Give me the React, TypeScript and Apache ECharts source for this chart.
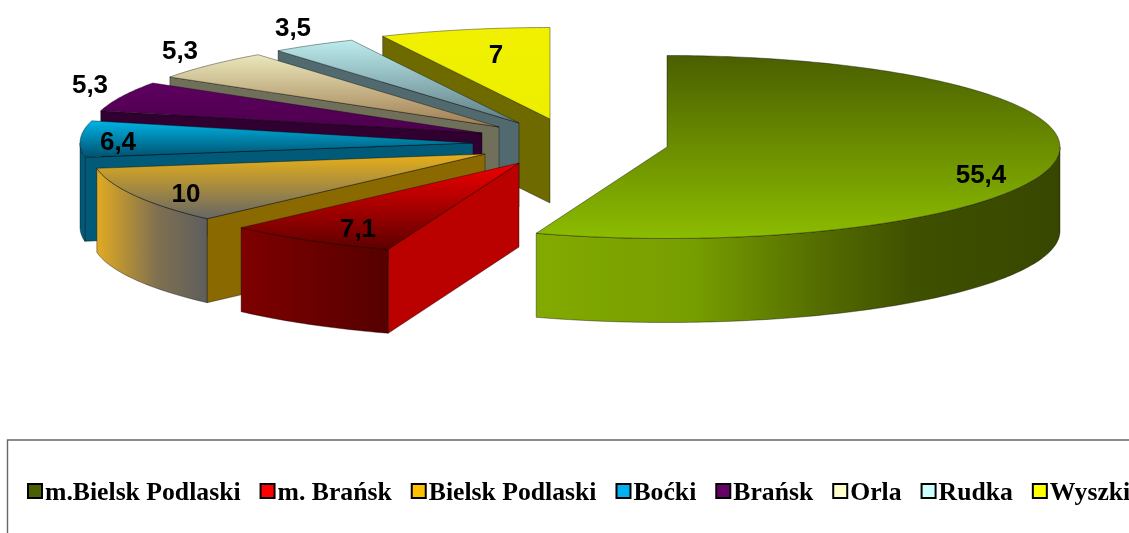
import React, { useEffect, useRef } from "react";
import * as echarts from "echarts";

const categories = ["m.Bielsk Podlaski", "m. Brańsk", "Bielsk Podlaski", "Boćki", "Brańsk", "Orla", "Rudka", "Wyszki"];
const shares = [55.4, 7.1, 10, 6.4, 5.3, 5.3, 3.5, 7];
const legendColors = ["#4a6000", "#ff0000", "#ffc000", "#00b0f0", "#660066", "#ffffcc", "#ccffff", "#ffff00"];

// Layout of the exploded 3D pie
const RX = 393;
const RY = 91.5;
const DEPTH = 84;
const apexes = [[667, 147], [519, 163], [485, 154], [473, 143], [482, 133], [499, 127], [519, 123], [550, 119]];
const labelAnchors = [[981, 174], [358, 228], [186, 193], [118, 141], [90, 84], [180, 50], [293, 27], [496, 54]];
const stackOrder = [8, 7, 6, 5, 4, 3, 2, 1];

type Stop = [number, string];
const topStops: Stop[][] = [
  [[0, "#4a5f00"], [1, "#8cbc00"]],
  [[0, "#f00000"], [1, "#5e0000"]],
  [[0, "#e8b018"], [1, "#666666"]],
  [[0, "#00b4e6"], [1, "#00516e"]],
  [[0, "#5e0060"], [1, "#4c004c"]],
  [[0, "#e9e8bc"], [1, "#a07c50"]],
  [[0, "#bceced"], [1, "#5e7d84"]],
  [[0, "#f0f000"], [1, "#eeee00"]],
];
const rimStops: Stop[][] = [
  [[0, "#82aa00"], [0.3, "#779e00"], [0.55, "#536b00"], [0.72, "#3f5000"], [1, "#384700"]],
  [[0, "#7e0000"], [1, "#560000"]],
  [[0, "#e2aa22"], [0.55, "#7f7050"], [1, "#5e5e5e"]],
  [[0, "#005a78"], [1, "#005a78"]],
  [[0, "#300030"], [1, "#300030"]],
  [[0, "#70705a"], [1, "#70705a"]],
  [[0, "#506a70"], [1, "#506a70"]],
  [[0, "#6e6a00"], [1, "#6e6a00"]],
];
const wallColors = ["#384700", "#bb0000", "#8a6a00", "#005a78", "#300030", "#70705a", "#506a70", "#6e6a00"];

const EDGE = "rgba(0,0,0,0.55)";
const rad = (d: number) => (d * Math.PI) / 180;

function gradient(stops: Stop[], horizontal: boolean) {
  return new echarts.graphic.LinearGradient(
    0, 0, horizontal ? 1 : 0, horizontal ? 0 : 1,
    stops.map(([offset, color]) => ({ offset, color }))
  );
}

function rimPoint(apex: number[], deg: number): number[] {
  return [apex[0] + RX * Math.sin(rad(deg)), apex[1] - RY * Math.cos(rad(deg))];
}

function arc(apex: number[], from: number, to: number): number[][] {
  const n = Math.max(2, Math.ceil(to - from));
  const pts: number[][] = [];
  for (let i = 0; i <= n; i++) pts.push(rimPoint(apex, from + ((to - from) * i) / n));
  return pts;
}

function makeRenderItem(idx: number) {
  return (_params: any, api: any) => {
    const total = shares.reduce((a, b) => a + b, 0);
    const before = shares.slice(0, idx).reduce((a, b) => a + b, 0);
    const start = (before / total) * 360;
    const end = start + (Number(api.value(0)) / total) * 360;
    const apex = apexes[idx];
    const children: any[] = [];
    const edge = { stroke: EDGE, lineWidth: 0.7 };
    const down = (p: number[]) => [p[0], p[1] + DEPTH];

    // Straight cut wall facing the viewer
    if (Math.sin(rad(start)) < 0) {
      const p = rimPoint(apex, start);
      children.push({
        type: "polygon",
        shape: { points: [apex, p, down(p), down(apex)] },
        style: { fill: wallColors[idx], ...edge },
      });
    }
    if (Math.sin(rad(end)) > 0) {
      const p = rimPoint(apex, end);
      children.push({
        type: "polygon",
        shape: { points: [apex, p, down(p), down(apex)] },
        style: { fill: wallColors[idx], ...edge },
      });
    }
    // Curved outer rim, front half only
    const rimFrom = Math.max(start, 90);
    const rimTo = Math.min(end, 270);
    if (rimTo > rimFrom) {
      const upper = arc(apex, rimFrom, rimTo);
      const lower = upper.map(down).reverse();
      children.push({
        type: "polygon",
        shape: { points: [...upper, ...lower] },
        style: { fill: gradient(rimStops[idx], true), ...edge },
      });
    }
    // Top face
    children.push({
      type: "polygon",
      shape: { points: [apex, ...arc(apex, start, end)] },
      style: { fill: gradient(topStops[idx], false), ...edge },
    });
    // Data label
    children.push({
      type: "text",
      x: labelAnchors[idx][0],
      y: labelAnchors[idx][1],
      z2: 100,
      style: {
        text: String(api.value(0)).replace(".", ","),
        fontFamily: "Liberation Sans",
        fontWeight: "bold",
        fontSize: 26,
        fill: "#000",
        align: "center",
        verticalAlign: "middle",
      },
    });
    return { type: "group", children };
  };
}

export default function App() {
  const ref = useRef<HTMLDivElement>(null);
  useEffect(() => {
    const chart = echarts.init(ref.current!, undefined, { renderer: "svg" });
    chart.setOption({
      animation: false,
      backgroundColor: "#fff",
      legend: {
        left: 22,
        top: 473,
        width: 1600,
        itemGap: 19,
        itemWidth: 14,
        itemHeight: 14,
        selectedMode: false,
        textStyle: {
          fontFamily: "Liberation Serif",
          fontWeight: "bold",
          fontSize: 25.7,
          color: "#000",
          padding: [0, 0, 0, -2],
        },
        data: categories.map((name, i) => ({
          name,
          icon: "rect",
          itemStyle: { color: legendColors[i], borderColor: "#000", borderWidth: 2 },
        })),
      },
      graphic: [
        {
          type: "polyline",
          shape: { points: [[7.5, 533], [7.5, 440], [1129, 440]] },
          style: { fill: "none", stroke: "#666", lineWidth: 1.4 },
        },
      ],
      series: categories.map((name, i) => ({
        type: "custom",
        name,
        coordinateSystem: "none",
        z: 2 + stackOrder[i],
        itemStyle: { color: legendColors[i] },
        renderItem: makeRenderItem(i),
        data: [[shares[i]]],
        silent: true,
      })),
    });
    return () => chart.dispose();
  }, []);
  return (
    <div
      ref={ref}
      style={{ position: "fixed", left: 0, top: 0, width: 1129, height: 533, background: "#fff", filter: "blur(0.4px)" }}
    />
  );
}
